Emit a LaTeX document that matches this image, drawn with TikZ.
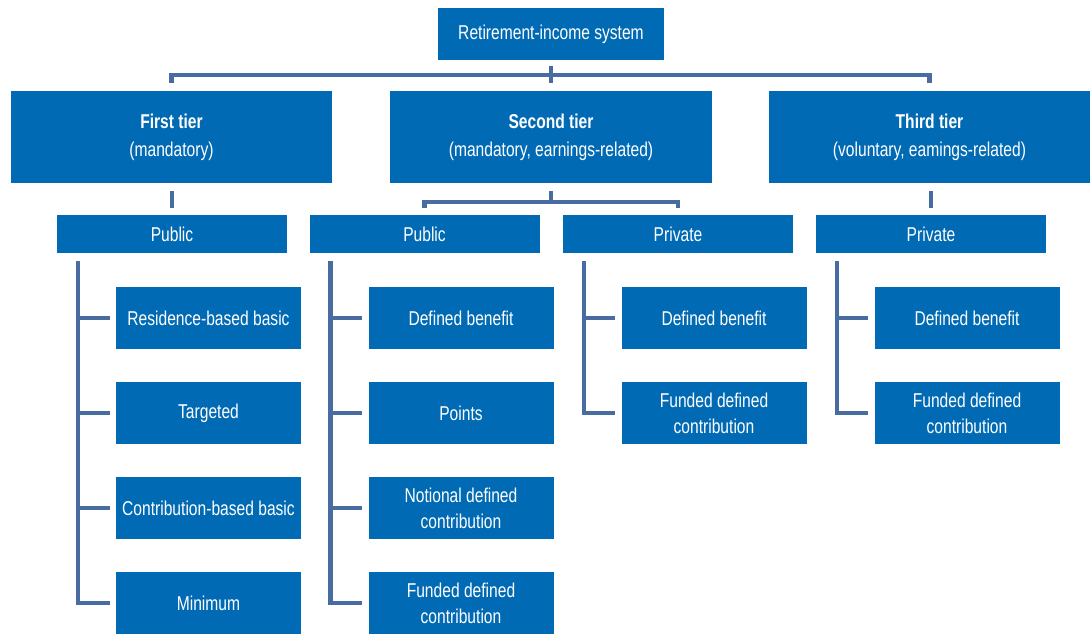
\documentclass[tikz,border=0pt]{standalone}
\usepackage{fontspec}
\setmainfont{Liberation Sans}[FakeStretch=0.78]
\usetikzlibrary{calc}
\definecolor{boxblue}{RGB}{0,106,180}
\definecolor{linkblue}{RGB}{72,108,162}
\begin{document}
\begin{tikzpicture}[x=1pt,y=-1pt,
  box/.style={fill=boxblue,text=white,inner sep=0pt,align=center,font=\fontsize{20}{26}\selectfont},
  tierbox/.style={box,minimum width=321pt,minimum height=92pt,font=\fontsize{20}{28}\selectfont},
  subbox/.style={box,minimum width=230pt,minimum height=38pt},
  leafbox/.style={box,minimum width=185pt,minimum height=62pt},
  conn/.style={draw=linkblue,line width=4.5pt,line join=miter}]
\useasboundingbox (0,0) rectangle (1090,634);

% top
\node[box,minimum width=226pt,minimum height=52pt] (top) at (551,34) {Retirement-income system};

% tiers
\node[tierbox] (t1) at (171.5,137) {\textbf{First tier}\\(mandatory)};
\node[tierbox,minimum width=322pt] (t2) at (551,137) {\textbf{Second tier}\\(mandatory, earnings-related)};
\node[tierbox] (t3) at (929.5,137) {\textbf{Third tier}\\(voluntary, eamings-related)};

% sub boxes
\node[subbox] (p1) at (172,234) {Public};
\node[subbox] (p2) at (424.5,234) {Public};
\node[subbox] (p3) at (678,234) {Private};
\node[subbox] (p4) at (931,234) {Private};

% leaves column 1
\node[leafbox] (a1) at (208.5,318) {Residence-based basic};
\node[leafbox] (a2) at (208.5,413) {Targeted};
\node[leafbox] (a3) at (208.5,508) {Contribution-based basic};
\node[leafbox] (a4) at (208.5,603) {Minimum};
% column 2
\node[leafbox] (b1) at (461,318) {Defined benefit};
\node[leafbox] (b2) at (461,413) {Points};
\node[leafbox] (b3) at (461,508) {Notional defined\\contribution};
\node[leafbox] (b4) at (461,603) {Funded defined\\contribution};
% column 3
\node[leafbox] (c1) at (714,318) {Defined benefit};
\node[leafbox] (c2) at (714,413) {Funded defined\\contribution};
% column 4
\node[leafbox] (d1) at (967,318) {Defined benefit};
\node[leafbox] (d2) at (967,413) {Funded defined\\contribution};

% top bus
\draw[conn] (t1.north |- 0,83) -- (t1.north |- 0,75) -- (t3.north |- 0,75) -- (t3.north |- 0,83);
\draw[conn] (top.south |- 0,66) -- (top.south |- 0,83);

% tier ticks
\draw[conn] (p1.north |- 0,191) -- (p1.north |- 0,208);
\draw[conn] (p4.north |- 0,191) -- (p4.north |- 0,208);
\draw[conn] (t2.south |- 0,191) -- (t2.south |- 0,202);
\draw[conn] (p2.north |- 0,208) -- (p2.north |- 0,202) -- (p3.north |- 0,202) -- (p3.north |- 0,208);

% brackets
\coordinate (k1) at ([xshift=21pt,yshift=-8pt]p1.south west);
\coordinate (k2) at ([xshift=21pt,yshift=-8pt]p2.south west);
\coordinate (k3) at ([xshift=21pt,yshift=-8pt]p3.south west);
\coordinate (k4) at ([xshift=21pt,yshift=-8pt]p4.south west);

\draw[conn] (k1) |- ([xshift=-6pt]a4.west);
\foreach \n in {a1,a2,a3} \draw[conn] (k1 |- \n.west) -- ([xshift=-6pt]\n.west);
\draw[conn] (k2) |- ([xshift=-6pt]b4.west);
\foreach \n in {b1,b2,b3} \draw[conn] (k2 |- \n.west) -- ([xshift=-6pt]\n.west);
\draw[conn] (k3) |- ([xshift=-6pt]c2.west);
\draw[conn] (k3 |- c1.west) -- ([xshift=-6pt]c1.west);
\draw[conn] (k4) |- ([xshift=-6pt]d2.west);
\draw[conn] (k4 |- d1.west) -- ([xshift=-6pt]d1.west);
\end{tikzpicture}
\end{document}
